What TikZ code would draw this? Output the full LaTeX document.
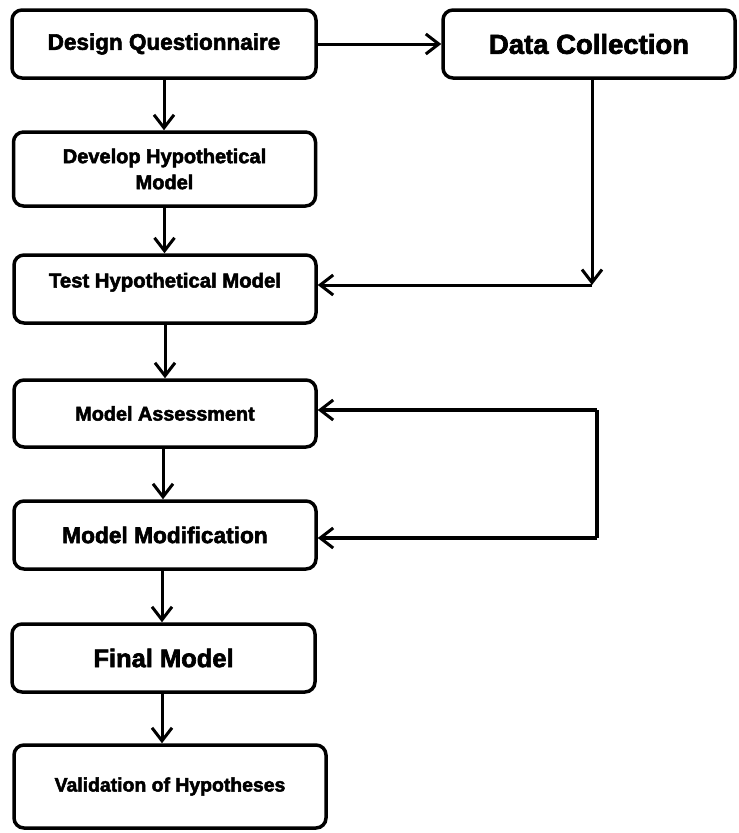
\documentclass[tikz,border=0pt]{standalone}
\usepackage{fontspec}
\setmainfont{Liberation Sans}[BoldFeatures={FakeBold=2.5}]
\usetikzlibrary{arrows.meta}
\begin{document}
\begin{tikzpicture}[x=1pt,y=-1pt,
  box/.style={draw, line width=3.5pt, rounded corners=10pt, align=center, inner sep=0pt, fill=white},
  conn/.style={line width=3pt, -{Straight Barb[length=13pt,width=20pt,line width=3pt]}},
  loopline/.style={line width=4pt}]
\path[use as bounding box, fill=white] (0,0) rectangle (739,833);

\node[box, minimum width=304pt, minimum height=68pt, font=\fontsize{22.5}{27}\bfseries] (dq) at (164,44) {Design Questionnaire};
\node[box, minimum width=292pt, minimum height=68pt, font=\fontsize{27.5}{33}\bfseries] (dc) at (589,44) {Data Collection};
\node[box, minimum width=302pt, minimum height=74pt, font=\fontsize{20}{26}\bfseries] (dh) at (164.5,169) {Develop Hypothetical\\Model};
\node[box, minimum width=302pt, minimum height=68pt, font=\fontsize{20.3}{24}\bfseries, text height=15pt, text depth=18pt] (th) at (165,289) {Test Hypothetical Model};
\node[box, minimum width=302pt, minimum height=67pt, font=\fontsize{19.8}{24}\bfseries] (ma) at (165,413.5) {Model Assessment};
\node[box, minimum width=302pt, minimum height=68pt, font=\fontsize{22.7}{27}\bfseries] (mm) at (165,535) {Model Modification};
\node[box, minimum width=303pt, minimum height=68pt, font=\fontsize{25.5}{30}\bfseries] (fm) at (163.5,658) {Final Model};
\node[box, minimum width=312pt, minimum height=83pt, font=\fontsize{19.4}{23}\bfseries] (vh) at (170,786.5) {Validation of Hypotheses};

\coordinate (c1) at (592,285);
\coordinate (f1) at (597,410);
\coordinate (f2) at (597,538);

\draw[conn] (dq.east) -- (dc.west);
\draw[conn] (dq.south) -- (dq.south |- dh.north);
\draw[conn] (dh.south) -- (dh.south |- th.north);
\draw[conn] (th.south) -- (th.south |- ma.north);
\draw[conn] ([xshift=-2pt]ma.south) -- ([xshift=-2pt]ma.south |- mm.north);
\draw[conn] ([xshift=-3pt]mm.south) -- ([xshift=-3pt]mm.south |- fm.north);
\draw[conn] ([xshift=-1.5pt]fm.south) -- ([xshift=-1.5pt]fm.south |- vh.north);

\draw[conn] (c1 |- dc.south) -- (c1);
\draw[conn] (c1) -- (c1 -| th.east);

\draw[loopline] (f1) -- (f2);
\draw[conn, line width=4pt] (f1) -- (f1 -| ma.east);
\draw[conn, line width=4pt] (f2) -- (f2 -| mm.east);
\end{tikzpicture}
\end{document}
